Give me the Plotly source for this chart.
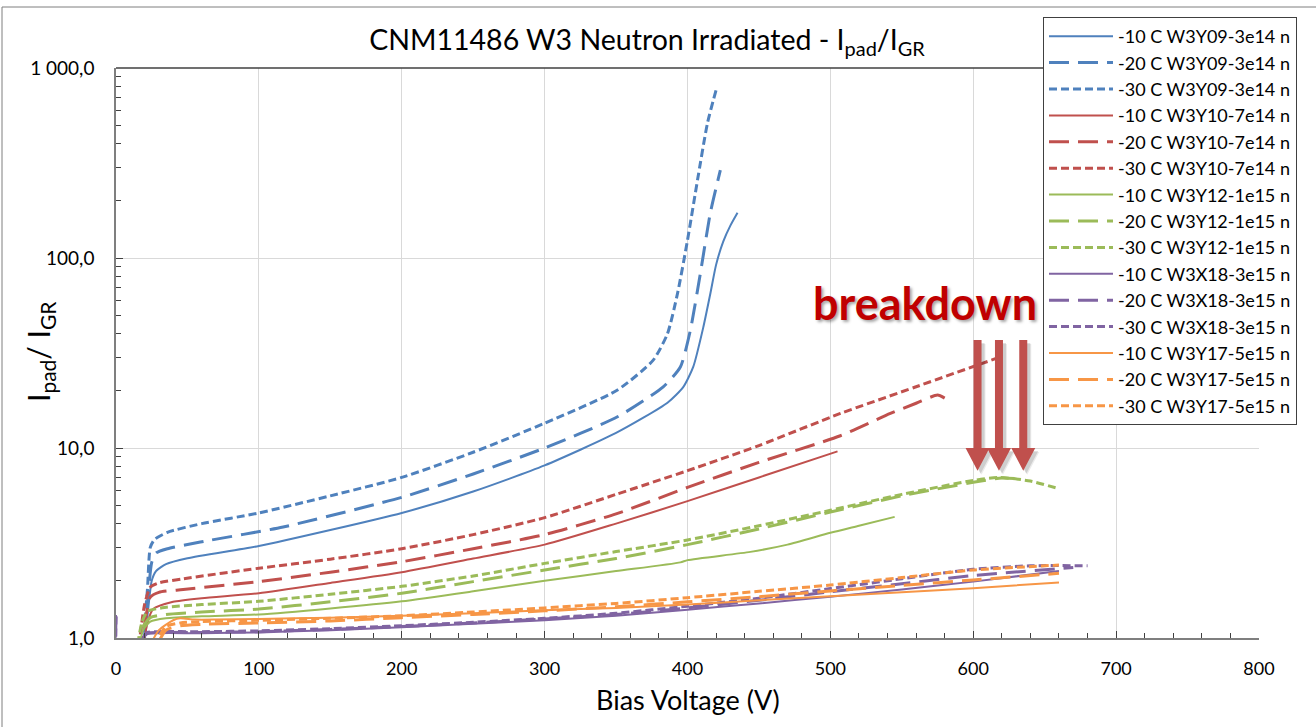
import math
import plotly.graph_objects as go

# ---------------- data ----------------
NAMES = [
    "-10 C W3Y09-3e14 n", "-20 C W3Y09-3e14 n", "-30 C W3Y09-3e14 n",
    "-10 C W3Y10-7e14 n", "-20 C W3Y10-7e14 n", "-30 C W3Y10-7e14 n",
    "-10 C W3Y12-1e15 n", "-20 C W3Y12-1e15 n", "-30 C W3Y12-1e15 n",
    "-10 C W3X18-3e15 n", "-20 C W3X18-3e15 n", "-30 C W3X18-3e15 n",
    "-10 C W3Y17-5e15 n", "-20 C W3Y17-5e15 n", "-30 C W3Y17-5e15 n",
]

# W3Y09-3e14
y09_m10_V = [18, 22, 25, 28, 35, 50, 100, 150, 200, 250, 300, 350, 386, 397, 404, 411, 416, 420, 425, 430, 435]
y09_m10_I = [0.7, 1.3, 2.0, 2.25, 2.45, 2.63, 3.05, 3.7, 4.55, 5.9, 8.1, 12.0, 17.3, 20.9, 26.7, 43, 65, 92, 122, 148, 173]
y09_m20_V = [18, 22, 25, 28, 36, 59, 117, 200, 250, 300, 351, 383, 395, 402, 409, 416, 423]
y09_m20_I = [0.7, 1.5, 2.5, 2.8, 2.95, 3.2, 3.84, 5.5, 7.3, 10.0, 14.6, 21, 26.7, 41.7, 83, 173, 290]
y09_m30_V = [18, 22, 24, 27, 36, 60, 100, 150, 200, 250, 300, 351, 376, 386, 393, 400, 407, 414, 420]
y09_m30_I = [0.8, 1.8, 3.0, 3.3, 3.6, 4.0, 4.55, 5.6, 7.0, 9.5, 13.5, 20.2, 29, 40, 65, 124, 257, 514, 765]

# W3Y10-7e14
y10_m10_V = [17, 22, 26, 40, 60, 100, 150, 200, 250, 300, 350, 400, 450, 505]
y10_m10_I = [0.7, 1.2, 1.42, 1.55, 1.62, 1.72, 1.95, 2.22, 2.62, 3.1, 4.0, 5.25, 7.0, 9.6]
y10_m20_V = [17, 21, 24, 30, 47, 100, 150, 200, 250, 300, 350, 400, 450, 507, 542, 560, 575, 580]
y10_m20_I = [0.8, 1.3, 1.64, 1.74, 1.8, 1.98, 2.22, 2.52, 2.95, 3.5, 4.5, 6.2, 8.4, 11.6, 15.2, 17.2, 19.0, 18.3]
y10_m30_V = [16, 20, 24, 30, 47, 100, 150, 200, 250, 300, 350, 400, 450, 507, 560, 616]
y10_m30_I = [0.9, 1.5, 1.85, 1.95, 2.05, 2.33, 2.6, 2.95, 3.5, 4.3, 5.7, 7.6, 10.3, 15.2, 21, 29.6]

# W3Y12-1e15
y12_m10_V = [15, 19, 24, 35, 60, 100, 150, 200, 250, 300, 350, 395, 400, 444, 470, 500, 520, 545]
y12_m10_I = [0.8, 1.1, 1.22, 1.27, 1.3, 1.33, 1.43, 1.56, 1.76, 2.0, 2.25, 2.5, 2.57, 2.84, 3.1, 3.58, 3.9, 4.34]
y12_m20_V = [15, 19, 24, 35, 60, 100, 150, 200, 250, 300, 350, 400, 450, 500, 550, 600, 620, 630]
y12_m20_I = [0.8, 1.15, 1.28, 1.33, 1.37, 1.42, 1.55, 1.72, 1.98, 2.28, 2.62, 3.1, 3.75, 4.6, 5.6, 6.6, 6.95, 6.9]
y12_m30_V = [14, 18, 22, 35, 60, 100, 150, 200, 250, 300, 350, 400, 450, 500, 550, 600, 618, 640, 660]
y12_m30_I = [0.8, 1.2, 1.38, 1.45, 1.5, 1.56, 1.7, 1.87, 2.12, 2.47, 2.85, 3.28, 3.9, 4.7, 5.7, 6.75, 7.0, 6.7, 6.1]

# W3X18-3e15
x18_m10_V = [0, 2, 16, 19, 22, 30, 60, 100, 150, 200, 250, 300, 350, 400, 450, 500, 550, 600, 660]
x18_m10_I = [1.32, 0.6, 0.7, 1.0, 1.05, 1.06, 1.06, 1.07, 1.1, 1.14, 1.19, 1.24, 1.31, 1.41, 1.52, 1.65, 1.8, 1.98, 2.25]
x18_m20_V = [0, 2, 16, 19, 22, 30, 60, 100, 150, 200, 250, 300, 350, 400, 450, 500, 550, 600, 670]
x18_m20_I = [1.3, 0.6, 0.7, 1.0, 1.06, 1.07, 1.07, 1.08, 1.11, 1.15, 1.2, 1.26, 1.33, 1.44, 1.58, 1.75, 1.93, 2.13, 2.35]
x18_m30_V = [0, 2, 16, 19, 22, 30, 60, 100, 150, 200, 250, 300, 350, 400, 450, 500, 550, 600, 640, 680]
x18_m30_I = [1.3, 0.6, 0.7, 1.0, 1.07, 1.08, 1.08, 1.09, 1.12, 1.16, 1.21, 1.27, 1.35, 1.47, 1.62, 1.82, 2.05, 2.3, 2.4, 2.4]

# W3Y17-5e15
y17_m10_V = [20, 30, 40, 45, 55, 70, 100, 150, 200, 250, 300, 350, 400, 450, 500, 550, 600, 660]
y17_m10_I = [0.8, 1.1, 1.24, 1.27, 1.25, 1.25, 1.26, 1.28, 1.31, 1.35, 1.4, 1.44, 1.5, 1.58, 1.66, 1.74, 1.83, 1.96]
y17_m20_V = [20, 28, 35, 45, 60, 100, 150, 200, 250, 300, 350, 400, 450, 500, 550, 600, 660]
y17_m20_I = [0.7, 0.9, 1.1, 1.16, 1.18, 1.2, 1.23, 1.28, 1.33, 1.39, 1.46, 1.55, 1.65, 1.77, 1.89, 2.02, 2.19]
y17_m30_V = [20, 28, 35, 45, 60, 100, 150, 200, 250, 300, 350, 400, 450, 500, 550, 600, 660]
y17_m30_I = [0.7, 0.95, 1.15, 1.2, 1.22, 1.24, 1.27, 1.31, 1.37, 1.44, 1.52, 1.63, 1.76, 1.9, 2.08, 2.28, 2.42]

SERIES_V = [y09_m10_V, y09_m20_V, y09_m30_V, y10_m10_V, y10_m20_V, y10_m30_V,
            y12_m10_V, y12_m20_V, y12_m30_V, x18_m10_V, x18_m20_V, x18_m30_V,
            y17_m10_V, y17_m20_V, y17_m30_V]
SERIES_I = [y09_m10_I, y09_m20_I, y09_m30_I, y10_m10_I, y10_m20_I, y10_m30_I,
            y12_m10_I, y12_m20_I, y12_m30_I, x18_m10_I, x18_m20_I, x18_m30_I,
            y17_m10_I, y17_m20_I, y17_m30_I]

X_TICKS = [0, 100, 200, 300, 400, 500, 600, 700, 800]
Y_TICKS = [1, 10, 100, 1000]
Y_TICK_TEXT = ["1,0", "10,0", "100,0", "1 000,0"]

BREAKDOWN_V = [603, 618, 635]   # arrow positions (V)
ARROW_TOP_I = 37                # arrow tail value
ARROW_HEAD_I = 10               # head base value
ARROW_TIP_I = 7.6               # tip value

# ---------------- styling ----------------
COLORS = ["#4F81BD", "#C0504D", "#9BBB59", "#8064A2", "#F79646"]
DASHES = ["solid", "20px,9px", "8px,4px"]
WIDTHS = [2, 3, 3]
FONT = "Lato"

fig = go.Figure()
for k, (name, vv, ii) in enumerate(zip(NAMES, SERIES_V, SERIES_I)):
    c = COLORS[k // 3]
    s = k % 3
    fig.add_trace(go.Scatter(
        x=vv, y=ii, name=name, mode="lines",
        line=dict(color=c, dash=DASHES[s], width=WIDTHS[s], shape="spline", smoothing=0.6),
    ))

minor_y = [m * 10 ** d for d in range(0, 3) for m in range(2, 10)]

fig.update_layout(
    width=1316, height=727,
    margin=dict(l=116, r=57, t=68, b=89),
    paper_bgcolor="white", plot_bgcolor="white",
    font=dict(family=FONT, color="#000000"),
    title=dict(text="CNM11486 W3 Neutron Irradiated - I<sub>pad</sub>/I<sub>GR</sub>",
               x=0.4646, xref="paper", xanchor="center",
               y=1 - 40 / 727, yref="container", yanchor="middle",
               font=dict(family=FONT, size=28.5, color="#000000")),
    xaxis=dict(range=[0, 800], tickmode="array", tickvals=X_TICKS,
               showgrid=True, gridcolor="#D9D9D9", gridwidth=1,
               zeroline=False, showline=True, linecolor="#7F7F7F", linewidth=1.5,
               ticks="inside", ticklen=7, tickcolor="#404040",
               ticklabelstandoff=14,
               minor=dict(dtick=20, ticks="inside", ticklen=5, tickcolor="#404040", showgrid=False),
               tickfont=dict(family=FONT, size=18, color="#000000")),
    yaxis=dict(type="log", range=[0, 3], tickmode="array", tickvals=Y_TICKS, ticktext=Y_TICK_TEXT,
               showgrid=True, gridcolor="#D9D9D9", gridwidth=1,
               zeroline=False, showline=True, linecolor="#7F7F7F", linewidth=1.5,
               ticks="inside", ticklen=7, tickcolor="#404040",
               ticklabelstandoff=16,
               minor=dict(tickmode="array", tickvals=minor_y, ticks="inside", ticklen=5,
                          tickcolor="#404040", showgrid=False),
               tickfont=dict(family=FONT, size=19, color="#000000")),
    legend=dict(x=(1043 - 116) / 1143, y=(638 - 17) / 570, xanchor="left", yanchor="top",
                bgcolor="white", bordercolor="#404040", borderwidth=1,
                font=dict(family=FONT, size=18, color="#000000"),
                itemwidth=64, tracegroupgap=0, maxheight=700),
    showlegend=True,
)

# axis titles
fig.add_annotation(text="I<sub>pad</sub>/ I<sub>GR</sub>", xref="paper", yref="paper",
                   x=(40 - 116) / 1143, y=(638 - 352) / 570, textangle=-90,
                   showarrow=False, xanchor="center", yanchor="middle",
                   font=dict(family=FONT, size=30, color="#000000"))
fig.add_annotation(text="Bias Voltage (V)", xref="paper", yref="paper",
                   x=0.5, y=(638 - 700) / 570, showarrow=False,
                   xanchor="center", yanchor="middle",
                   font=dict(family=FONT, size=27, color="#000000"))

# breakdown label
fig.add_annotation(text="<b>breakdown</b>", xref="x", yref="paper",
                   x=(925 - 116) * 0.7, y=(638 - 303) / 570, showarrow=False,
                   xanchor="center", yanchor="middle",
                   font=dict(family=FONT, size=45, color="#C00000",
                             shadow="2px 2px 3px rgba(0,0,0,0.35)"))

# frame lines: plot-area top border and chart outer border
fig.add_shape(type="line", xref="paper", yref="paper", x0=0, x1=1, y0=1, y1=1,
              line=dict(color="#404040", width=1.5))
bx = (2 - 116) / 1143
by = (638 - 7) / 570
fig.add_shape(type="line", xref="paper", yref="paper", x0=bx, x1=bx, y0=(638 - 727) / 570, y1=by,
              line=dict(color="#7F7F7F", width=1))
fig.add_shape(type="line", xref="paper", yref="paper", x0=bx, x1=(1316 - 116) / 1143, y0=by, y1=by,
              line=dict(color="#7F7F7F", width=1))

# breakdown arrows (path coordinates are data values on the log axis)
px_per_V = 1143 / 800.0
px_per_dec = 570 / 3.0
shaft_hw = 4 / px_per_V
head_hw = 12 / px_per_V

def arrow_path(v, dx_px=0.0, dy_px=0.0):
    f = 10 ** (-dy_px / px_per_dec)
    dx = dx_px / px_per_V
    pts = [(v - shaft_hw, ARROW_TOP_I), (v + shaft_hw, ARROW_TOP_I), (v + shaft_hw, ARROW_HEAD_I),
           (v + head_hw, ARROW_HEAD_I), (v, ARROW_TIP_I), (v - head_hw, ARROW_HEAD_I),
           (v - shaft_hw, ARROW_HEAD_I)]
    return "M " + " L ".join(f"{x + dx:.3f},{y * f:.5f}" for x, y in pts) + " Z"

for v in BREAKDOWN_V:
    for off, alpha in [(4, 0.08), (3, 0.12)]:
        fig.add_shape(type="path", xref="x", yref="y",
                      path=arrow_path(v, off, off),
                      fillcolor=f"rgba(0,0,0,{alpha})", line=dict(width=0))
    fig.add_shape(type="path", xref="x", yref="y", path=arrow_path(v),
                  fillcolor="#C0504D", line=dict(width=0))

fig.write_html("out.html", config={"displayModeBar": False},
               post_script="document.body.style.margin='0';")
